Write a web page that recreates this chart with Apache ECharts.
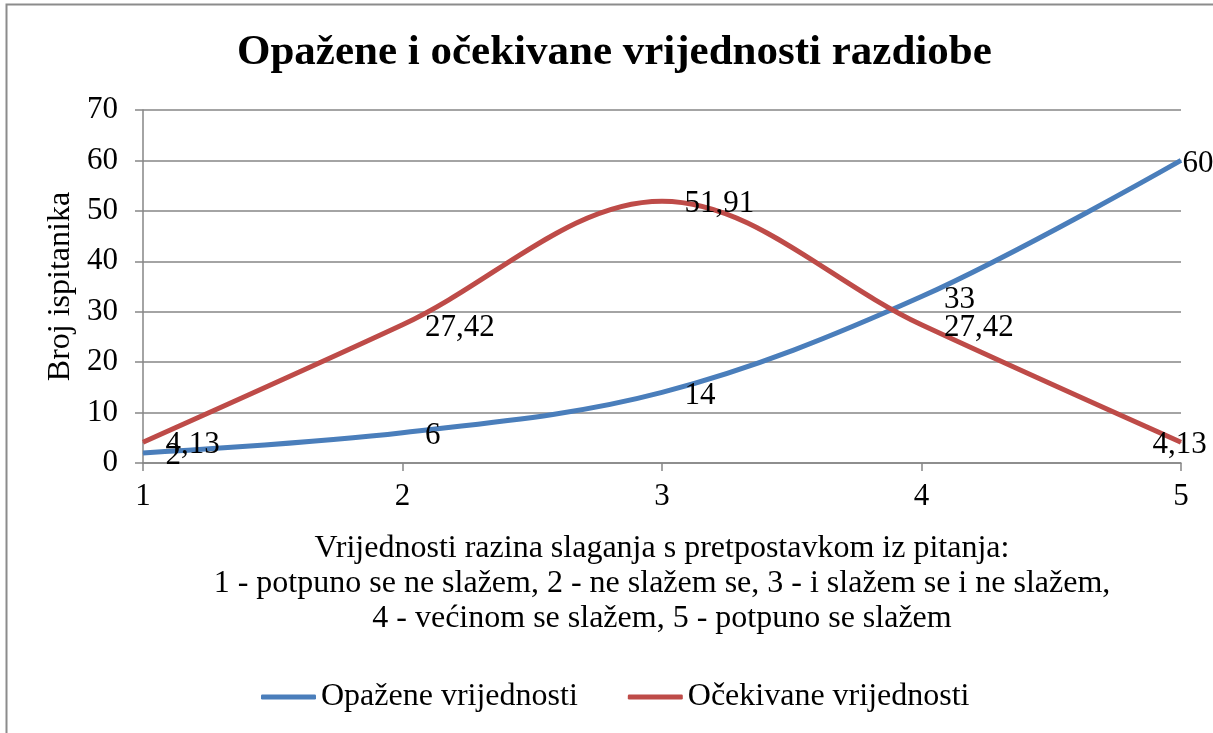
<!DOCTYPE html>
<html>
<head>
<meta charset="utf-8">
<script src="https://cdn.jsdelivr.net/npm/echarts@6/dist/echarts.min.js"></script>
<style>
  html, body { margin: 0; padding: 0; background: #fff; }
  #chart { width: 1213px; height: 733px; }
</style>
</head>
<body>
<div id="chart"></div>
<script>
// x positions (agreement levels) and the two series
const levels = [1, 2, 3, 4, 5];
const observed = [2, 6, 14, 33, 60];
const expected = [4.13, 27.42, 51.91, 27.42, 4.13];
const yTicks = { min: 0, max: 70, step: 10 };

const seriesNames = ["Opažene vrijednosti", "Očekivane vrijednosti"];
const xTitle = "Vrijednosti razina slaganja s pretpostavkom iz pitanja:\n" +
  "1 - potpuno se ne slažem, 2 - ne slažem se, 3 - i slažem se i ne slažem,\n" +
  "4 - većinom se slažem, 5 - potpuno se slažem";

const font = "'Liberation Serif', 'Times New Roman', serif";
const blue = "#4a7ebb";
const red = "#be4b48";

function fmt(v) {
  return String(v).replace(".", ",");
}

// labels at the last point are pushed back inside the chart, like excel does
function makeData(values, lastShift) {
  return values.map((v, i) => {
    let item = { value: [levels[i], v] };
    if (i === values.length - 1) {
      item.label = { offset: [lastShift, 3] };
    }
    return item;
  });
}

function dataLabel() {
  return {
    show: true,
    position: "right",
    distance: 22,
    offset: [0, 3],
    fontFamily: font,
    fontSize: 31,
    color: "#000",
    formatter: p => fmt(p.value[1])
  };
}

let chart = echarts.init(document.getElementById("chart"));

let option = {
  animation: false,
  textStyle: { fontFamily: font, color: "#000" },
  title: {
    text: "Opažene i očekivane vrijednosti razdiobe",
    left: 232,
    top: 26,
    textStyle: { fontFamily: font, fontSize: 43, fontWeight: "bold", color: "#000" }
  },
  graphic: [
    {
      type: "rect",
      shape: { x: 6.5, y: 4.5, width: 1300, height: 800 },
      style: { fill: null, stroke: "#8c8c8c", lineWidth: 2 },
      silent: true
    }
  ],
  grid: {
    left: 143,
    right: 32,
    top: 110,
    bottom: 270,
    outerBoundsMode: "none"
  },
  legend: {
    data: seriesNames,
    left: 256,
    top: 676,
    icon: "roundRect",
    itemWidth: 55,
    itemHeight: 5,
    itemGap: 50,
    textStyle: { fontFamily: font, fontSize: 32, color: "#000" }
  },
  xAxis: {
    type: "value",
    min: 1,
    max: 5,
    interval: 1,
    name: xTitle,
    nameLocation: "middle",
    nameGap: 68,
    nameTextStyle: { fontFamily: font, fontSize: 32, color: "#000", lineHeight: 35 },
    axisLine: { show: true, lineStyle: { color: "#868686", width: 1.5 } },
    axisTick: { show: true, length: 8, lineStyle: { color: "#868686", width: 1.5 } },
    axisLabel: { fontFamily: font, fontSize: 31, color: "#000", margin: 18 },
    splitLine: { show: false }
  },
  yAxis: {
    type: "value",
    min: yTicks.min,
    max: yTicks.max,
    interval: yTicks.step,
    name: "Broj ispitanika",
    nameLocation: "middle",
    nameRotate: 90,
    nameGap: 61,
    nameTextStyle: { fontFamily: font, fontSize: 32, color: "#000" },
    axisLine: { show: true, lineStyle: { color: "#868686", width: 1.5 } },
    axisTick: { show: true, length: 8, lineStyle: { color: "#868686", width: 1.5 } },
    axisLabel: { fontFamily: font, fontSize: 31, color: "#000", margin: 25 },
    splitLine: { show: true, lineStyle: { color: "#868686", width: 1.5 } }
  },
  series: [
    {
      name: seriesNames[0],
      type: "line",
      smooth: 0.35,
      symbol: "circle",
      symbolSize: 1,
      showSymbol: true,
      lineStyle: { color: blue, width: 5 },
      itemStyle: { color: blue },
      label: dataLabel(),
      data: makeData(observed, -21),
      z: 3
    },
    {
      name: seriesNames[1],
      type: "line",
      smooth: 0.35,
      symbol: "circle",
      symbolSize: 1,
      showSymbol: true,
      lineStyle: { color: red, width: 5 },
      itemStyle: { color: red },
      label: dataLabel(),
      data: makeData(expected, -51),
      z: 3
    }
  ]
};

chart.setOption(option);

window.addEventListener("resize", function() {
  chart.resize();
});
</script>
</body>
</html>
